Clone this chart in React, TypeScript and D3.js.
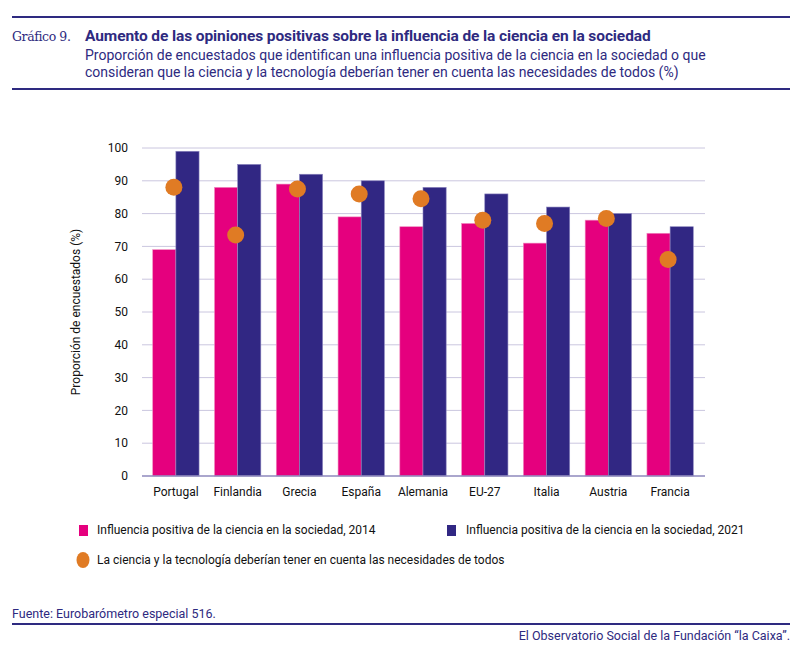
import React from 'react';
import * as d3 from 'd3';

const countries = ['Portugal', 'Finlandia', 'Grecia', 'España', 'Alemania', 'EU-27', 'Italia', 'Austria', 'Francia'];
const values2014 = [69, 88, 89, 79, 76, 77, 71, 78, 74];
const values2021 = [99, 95, 92, 90, 88, 86, 82, 80, 76];
const valuesNeeds = [88, 73.5, 87.5, 86, 84.5, 78, 77, 78.5, 66];
const yTicks = [0, 10, 20, 30, 40, 50, 60, 70, 80, 90, 100];
const seriesNames = [
  'Influencia positiva de la ciencia en la sociedad, 2014',
  'Influencia positiva de la ciencia en la sociedad, 2021',
  'La ciencia y la tecnología deberían tener en cuenta las necesidades de todos',
];

const PINK = '#e5007e';
const BLUE = '#312783';
const ORANGE = '#e07b24';
const NAVY = '#2e2a80';
const FONT = 'Roboto, "Noto Sans", sans-serif';

const App: React.FC = () => {
  const W = 800;
  const H = 650;
  const plot = { left: 142, right: 705, top: 148, bottom: 476 };

  const x = d3.scaleBand<string>().domain(countries).range([145, 701]).paddingInner(0.25).paddingOuter(0.125);
  const xSub = d3.scaleBand<string>().domain(['2014', '2021']).range([0, x.bandwidth()]);
  const y = d3.scaleLinear().domain([0, 100]).range([plot.bottom, plot.top]);

  return (
    <svg width={W} height={H} style={{ position: 'absolute', left: 0, top: 0 }} fontFamily={FONT}>
      <rect width={W} height={H} fill="#fff" />

      {/* cabecera */}
      <line x1={12} x2={790} y1={17} y2={17} stroke={NAVY} strokeWidth={2} />
      <text x={12} y={41} fontFamily='"DejaVu Serif", "Liberation Serif", serif' fontSize={12.5} fill={NAVY} letterSpacing={-0.4}>
        Gráfico 9.
      </text>
      <text x={85} y={41} fontSize={15.5} fontWeight="bold" fill={NAVY} letterSpacing={-0.1}>
        Aumento de las opiniones positivas sobre la influencia de la ciencia en la sociedad
      </text>
      <text x={85} y={60} fontSize={14} fill={NAVY}>
        Proporción de encuestados que identifican una influencia positiva de la ciencia en la sociedad o que
      </text>
      <text x={85} y={77} fontSize={14} fill={NAVY}>
        consideran que la ciencia y la tecnología deberían tener en cuenta las necesidades de todos (%)
      </text>
      <line x1={12} x2={790} y1={89} y2={89} stroke={NAVY} strokeWidth={2} />

      {/* rejilla y eje Y */}
      {yTicks.map((t) => (
        <g key={t}>
          {t > 0 && <line x1={plot.left} x2={plot.right} y1={y(t)} y2={y(t)} stroke="#cac6df" strokeWidth={1} />}
          <text x={128} y={y(t)} dy="0.35em" textAnchor="end" fontSize={12} fill="#111">
            {t}
          </text>
        </g>
      ))}
      <text
        transform={`translate(80,${(plot.top + plot.bottom) / 2}) rotate(-90)`}
        textAnchor="middle"
        fontSize={12}
        fill="#111"
      >
        Proporción de encuestados (%)
      </text>

      {/* barras */}
      {countries.map((c, i) => {
        const x0 = x(c) as number;
        return (
          <g key={c}>
            <rect
              x={x0 + (xSub('2014') as number)}
              y={y(values2014[i])}
              width={xSub.bandwidth()}
              height={y(0) - y(values2014[i])}
              fill={PINK}
              stroke="#f08cc0"
              strokeWidth={0.6}
            />
            <rect
              x={x0 + (xSub('2021') as number)}
              y={y(values2021[i])}
              width={xSub.bandwidth()}
              height={y(0) - y(values2021[i])}
              fill={BLUE}
              stroke="#8c86bf"
              strokeWidth={0.6}
            />
            <text x={x0 + x.bandwidth() / 2} y={496} textAnchor="middle" fontSize={12} fill="#111">
              {c}
            </text>
          </g>
        );
      })}
      <line x1={plot.left} x2={plot.right} y1={y(0)} y2={y(0)} stroke="#8e88bd" strokeWidth={1.5} />

      {/* puntos */}
      {countries.map((c, i) => (
        <circle
          key={c}
          cx={(x(c) as number) + x.bandwidth() / 2 - 2}
          cy={y(valuesNeeds[i])}
          r={8.5}
          fill={ORANGE}
        />
      ))}

      {/* leyenda */}
      <rect x={79} y={525} width={9} height={11} fill={PINK} />
      <text x={97} y={530} dy="0.35em" fontSize={12} fill="#111">
        {seriesNames[0]}
      </text>
      <rect x={447} y={525} width={9} height={11} fill={BLUE} />
      <text x={466} y={530} dy="0.35em" fontSize={12} fill="#111">
        {seriesNames[1]}
      </text>
      <ellipse cx={83} cy={560} rx={6.5} ry={8} fill={ORANGE} />
      <text x={97} y={560} dy="0.35em" fontSize={12} fill="#111">
        {seriesNames[2]}
      </text>

      {/* pie */}
      <text x={12} y={618} fontSize={12.5} fill={NAVY}>
        Fuente: Eurobarómetro especial 516.
      </text>
      <line x1={12} x2={790} y1={624} y2={624} stroke={NAVY} strokeWidth={2} />
      <text x={790} y={640} textAnchor="end" fontSize={12.5} fill={NAVY}>
        El Observatorio Social de la Fundación “la Caixa”.
      </text>
    </svg>
  );
};

export default App;
